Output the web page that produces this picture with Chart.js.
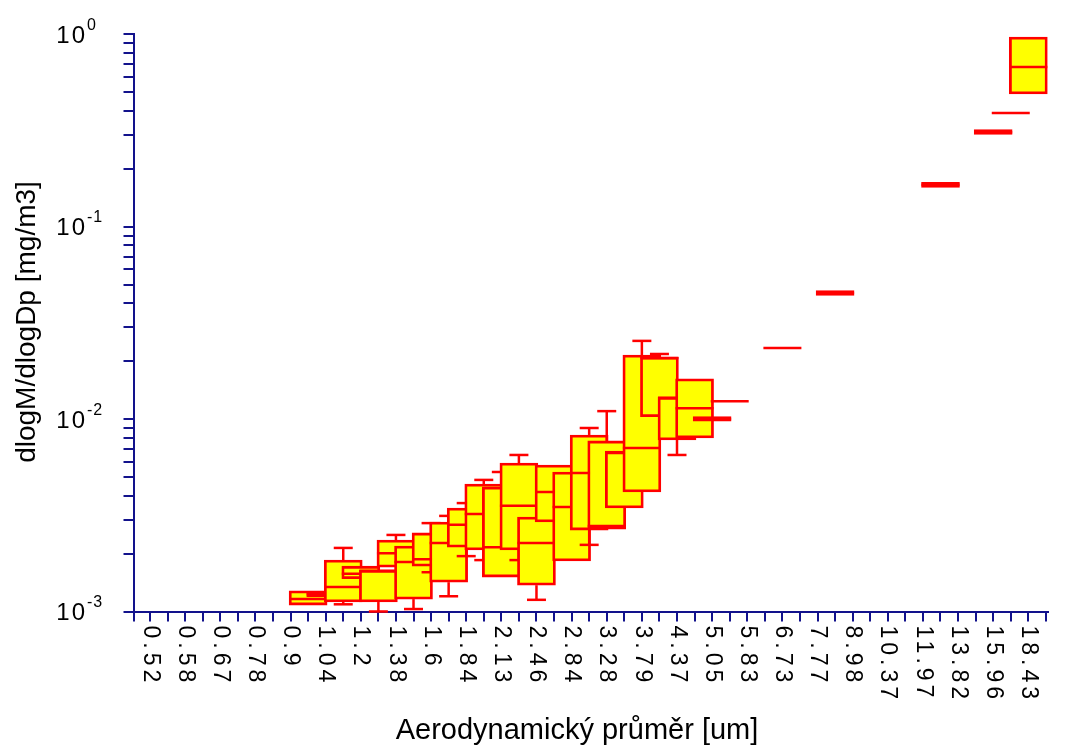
<!DOCTYPE html>
<html>
<head>
<meta charset="utf-8">
<script src="https://cdn.jsdelivr.net/npm/chart.js@4.4.1/dist/chart.umd.min.js"></script>
<style>
  html, body { margin: 0; padding: 0; background: #ffffff; }
  #wrap { width: 1066px; height: 749px; }
</style>
</head>
<body>
<div id="wrap"><canvas id="c" width="1066" height="749"></canvas></div>
<script>
// Size classes (aerodynamic diameter, um)
const categories = ['0.52','0.58','0.67','0.78','0.9','1.04','1.2','1.38','1.6','1.84','2.13','2.46','2.84',
  '3.28','3.79','4.37','5.05','5.83','6.73','7.77','8.98','10.37','11.97','13.82','15.96','18.43'];

// Box positions in size-class units (x.5 = between two neighbouring classes)
const boxPos = [4.5, 5, 5.5, 6, 6.5, 7, 7.5, 8, 8.5, 9, 9.5, 10, 10.5, 11, 11.5, 12, 12.5, 13, 13.5,
  14, 14.5, 15, 15.5, 16, 16.5, 18, 19.5, 22.5, 24, 24.5, 25];

// dlogM/dlogDp [mg/m3]
const whiskerHigh = [null, null, 0.00214, null, null, 0.00250, null, 0.00288, 0.00314, 0.00366, 0.00483,
  0.00531, 0.00651, null, null, null, 0.00899, 0.0110, null, 0.0255, 0.0218, null, null, null, null,
  null, null, null, null, null, null];
const upperQuartile = [0.00128, 0.00127, 0.00185, 0.00172, 0.00164, 0.00235, 0.00219, 0.00256, 0.00292,
  0.00345, 0.00460, 0.00444, 0.00591, 0.00310, 0.00577, 0.00531, 0.00827, 0.00770, 0.00683, 0.0215,
  0.0210, 0.0130, 0.0162, 0.0103, 0.0124, 0.0234, 0.0465, 0.170, 0.320, 0.390, 0.968];
const medians = [0.00116, 0.00123, 0.00134, 0.00157, 0.00163, 0.00201, 0.00181, 0.00187, 0.00227,
  0.00282, 0.00321, 0.00216, 0.00354, 0.00227, 0.00418, 0.00349, 0.00525, 0.00278, 0.00667, 0.00708,
  0.0208, 0.0129, 0.0114, 0.0100, 0.0124, 0.0234, 0.0452, 0.165, 0.310, 0.390, 0.676];
const lowerQuartile = [0.00108, 0.00119, 0.00112, 0.00148, 0.00112, 0.00170, 0.00116, 0.00172, 0.00142,
  0.00216, 0.00209, 0.00151, 0.00209, 0.00137, 0.00292, 0.00183, 0.00265, 0.00268, 0.00345, 0.00418,
  0.0103, 0.00779, 0.00798, 0.00975, 0.0124, 0.0234, 0.0440, 0.160, 0.302, 0.390, 0.490];
const whiskerLow = [null, null, 0.00109, null, 0.00100, null, 0.00103, 0.00160, 0.00120, 0.00194, 0.00185,
  null, 0.00185, 0.00115, null, null, 0.00222, null, null, null, null, 0.00651, null, null, null,
  null, null, null, null, null, null];

// Y axis decades and their exponent labels
const yDecades = [0.001, 0.01, 0.1, 1];
const yExponents = ['-3', '-2', '-1', '0'];

const xTitle = 'Aerodynamický průměr [um]';
const yTitle = 'dlogM/dlogDp [mg/m3]';

const AXIS = '#12128c';
const RED = '#ff0000';
const YELLOW = '#ffff00';
const FONT = '"Liberation Sans", Arial, sans-serif';
const X_MIN = -0.47, X_MAX = 25.56;

// minor + major log ticks (1..9 x 10^n)
const yTickValues = [];
for (let e = -3; e < 0; e++) {
  for (let m = 1; m <= 9; m++) yTickValues.push(+(m * Math.pow(10, e)).toPrecision(3));
}
yTickValues.push(1);

// one tick at the axis start, then every half class
const xTickValues = [X_MIN];
for (let k = 0; k <= 51; k++) xTickValues.push(k / 2);

// one dataset per box so that each box is drawn over its left neighbour
const datasets = boxPos.map((p, i) => ({
  data: [{ x: p, y: [lowerQuartile[i], upperQuartile[i]] }],
  backgroundColor: YELLOW,
  borderColor: RED,
  borderWidth: 2.8,
  borderSkipped: false,
  barThickness: 38,
  grouped: false,
  order: boxPos.length - i
}));

function seg(ctx, x1, y1, x2, y2) {
  ctx.beginPath();
  ctx.moveTo(x1, y1);
  ctx.lineTo(x2, y2);
  ctx.stroke();
}

// medians and whiskers, drawn right after their own box
const boxExtras = {
  id: 'boxExtras',
  afterDatasetDraw(chart, args) {
    const i = args.index;
    const bar = args.meta.data[0];
    if (!bar) return;
    const ys = chart.scales.y;
    const ctx = chart.ctx;
    const cx = bar.x, half = bar.width / 2;
    ctx.save();
    ctx.strokeStyle = RED;
    ctx.lineWidth = 2.5;
    const ym = ys.getPixelForValue(medians[i]);
    seg(ctx, cx - half, ym, cx + half, ym);
    if (whiskerHigh[i] != null) {
      const y0 = ys.getPixelForValue(upperQuartile[i]);
      const y1 = ys.getPixelForValue(whiskerHigh[i]);
      seg(ctx, cx, y0, cx, y1);
      seg(ctx, cx - half / 2, y1, cx + half / 2, y1);
    }
    if (whiskerLow[i] != null) {
      const y0 = ys.getPixelForValue(lowerQuartile[i]);
      const y1 = ys.getPixelForValue(whiskerLow[i]);
      seg(ctx, cx, y0, cx, y1);
      seg(ctx, cx - half / 2, y1, cx + half / 2, y1);
    }
    ctx.restore();
  },
  afterDraw(chart) {
    const ctx = chart.ctx;
    const xs = chart.scales.x, ys = chart.scales.y;
    const area = chart.chartArea;
    ctx.save();
    ctx.fillStyle = '#000000';

    // vertical class labels below the axis
    ctx.font = '23px ' + FONT;
    ctx.letterSpacing = '4px';
    ctx.textAlign = 'left';
    ctx.textBaseline = 'middle';
    categories.forEach((lab, i) => {
      ctx.save();
      ctx.translate(xs.getPixelForValue(i), area.bottom + 14);
      ctx.rotate(Math.PI / 2);
      ctx.fillText(lab, 0, 0);
      ctx.restore();
    });

    // decade labels 10^n
    yDecades.forEach((v, k) => {
      const py = ys.getPixelForValue(v);
      ctx.font = '24px ' + FONT;
      ctx.letterSpacing = '2px';
      ctx.textAlign = 'right';
      ctx.fillText('10', 87, py + 2);
      ctx.font = '16px ' + FONT;
      ctx.letterSpacing = '1px';
      ctx.textAlign = 'left';
      ctx.fillText(yExponents[k], 87, py - 9);
    });

    // axis titles
    ctx.letterSpacing = '0px';
    ctx.font = '29px ' + FONT;
    ctx.textAlign = 'center';
    ctx.fillText(xTitle, 577, 731);
    ctx.font = '28px ' + FONT;
    ctx.save();
    ctx.translate(27, 322);
    ctx.rotate(-Math.PI / 2);
    ctx.fillText(yTitle, 0, 0);
    ctx.restore();
    ctx.restore();
  }
};

new Chart(document.getElementById('c'), {
  type: 'bar',
  data: { datasets },
  options: {
    responsive: false,
    animation: false,
    events: [],
    layout: { padding: { left: 123.5, right: 18, top: 34.3, bottom: 127.5 } },
    plugins: { legend: { display: false }, tooltip: { enabled: false } },
    scales: {
      x: {
        type: 'linear',
        min: X_MIN,
        max: X_MAX,
        offset: false,
        afterBuildTicks: s => { s.ticks = xTickValues.map(v => ({ value: v })); },
        ticks: { display: false },
        grid: { drawOnChartArea: false, drawTicks: true, tickLength: 10, tickColor: AXIS, tickWidth: 2,
                color: AXIS, lineWidth: 2, offset: false },
        border: { display: true, color: AXIS, width: 2 }
      },
      y: {
        type: 'logarithmic',
        min: 0.001,
        max: 1,
        afterBuildTicks: s => { s.ticks = yTickValues.map(v => ({ value: v })); },
        ticks: { display: false },
        grid: { drawOnChartArea: false, drawTicks: true, tickLength: 10, tickColor: AXIS, tickWidth: 2,
                color: AXIS, lineWidth: 2 },
        border: { display: true, color: AXIS, width: 2 }
      }
    }
  },
  plugins: [boxExtras]
});
</script>
</body>
</html>
